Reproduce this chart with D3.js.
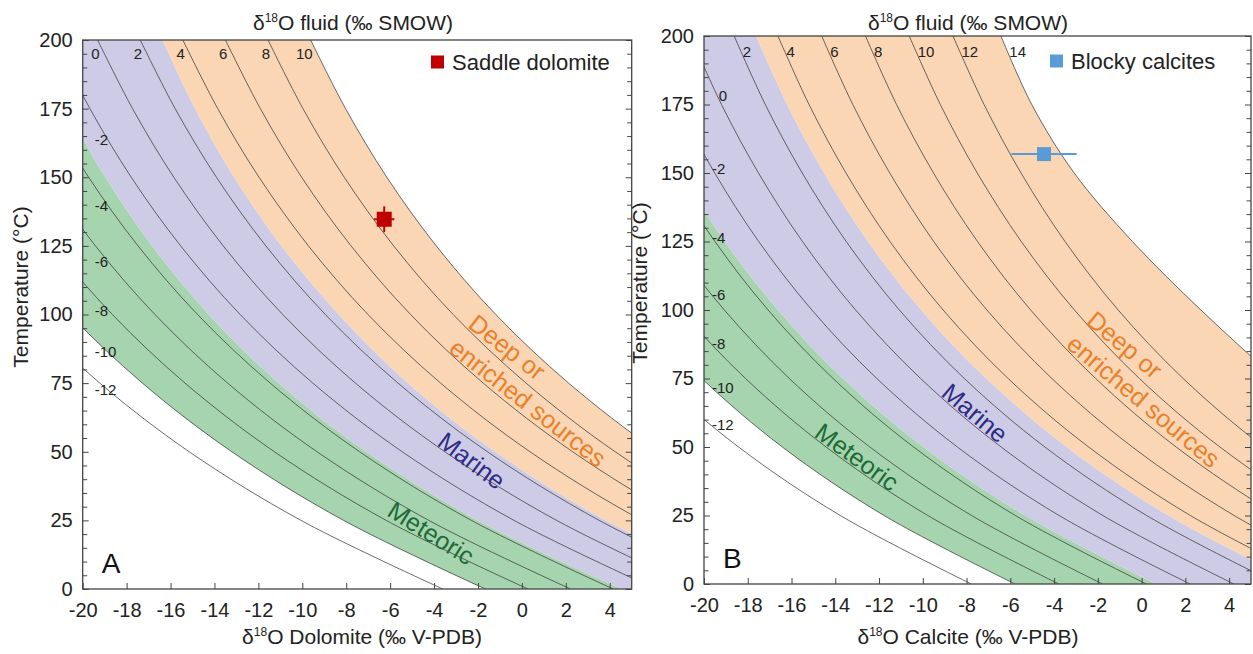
<!DOCTYPE html>
<html>
<head>
<meta charset="utf-8">
<script src="https://cdnjs.cloudflare.com/ajax/libs/d3/7.8.5/d3.min.js"></script>
<style>
  html,body{margin:0;padding:0;background:#fff;}
  svg{display:block;}
  text{font-family:"Liberation Sans", Arial, Helvetica, sans-serif;}
</style>
</head>
<body>
<svg id="fig" width="1253" height="654"></svg>
<script>
// ---------- shared axis values ----------
const temperatureSteps = [0, 25, 50, 75, 100, 125, 150, 175, 200];
const xTickValues = [-20, -18, -16, -14, -12, -10, -8, -6, -4, -2, 0, 2, 4];
const yTickValues = [0, 25, 50, 75, 100, 125, 150, 175, 200];
const yMinorTickValues = [5,10,15,20,30,35,40,45,55,60,65,70,80,85,90,95,105,110,115,120,130,135,140,145,155,160,165,170,180,185,190,195];

// ---------- Panel A : dolomite (x = d18O dolomite at each temperature step) ----------
const dolomiteFluid = [-12, -10, -8, -6, -4, -2, 0, 2, 4, 6, 8, 10];
const dolomiteLines = [
  [-3.60, -10.06, -15.15, -19.22, -22.53, -25.24, -27.49, -29.37, -30.96],
  [-1.66,  -8.12, -13.21, -17.28, -20.59, -23.30, -25.55, -27.43, -29.02],
  [ 0.28,  -6.18, -11.27, -15.34, -18.65, -21.36, -23.61, -25.49, -27.08],
  [ 2.22,  -4.24,  -9.33, -13.40, -16.71, -19.42, -21.67, -23.55, -25.14],
  [ 4.16,  -2.30,  -7.39, -11.46, -14.77, -17.48, -19.73, -21.61, -23.20],
  [ 6.10,  -0.36,  -5.45,  -9.52, -12.83, -15.54, -17.79, -19.67, -21.26],
  [ 8.04,   1.58,  -3.51,  -7.58, -10.89, -13.60, -15.85, -17.73, -19.32],
  [ 9.98,   3.52,  -1.57,  -5.64,  -8.95, -11.66, -13.91, -15.79, -17.38],
  [11.92,   5.46,   0.37,  -3.70,  -7.01,  -9.72, -11.97, -13.85, -15.44],
  [13.86,   7.40,   2.31,  -1.76,  -5.07,  -7.78, -10.03, -11.91, -13.50],
  [15.80,   9.34,   4.25,   0.19,  -3.13,  -5.84,  -8.09,  -9.97, -11.56],
  [17.74,  11.28,   6.19,   2.13,  -1.19,  -3.90,  -6.15,  -8.03,  -9.62]
];
const dolomiteMeteoricEdge = [4.55, -2.01, -7.08, -11.07, -14.26, -16.84, -18.97, -20.72, -22.18];
const dolomiteMarineEdge   = [10.42, 3.83, -1.21, -5.18, -8.34, -10.95, -13.10, -14.88, -16.36];
const saddleDolomite = [-6.27, 134.7];
const saddleDolomiteError = [0.46, 4.7];

// ---------- Panel B : calcite ----------
const calciteFluid = [-12, -10, -8, -6, -4, -2, 0, 2, 4, 6, 8, 10, 12, 14];
const calciteLines = [
  [-7.78, -13.77, -18.42, -22.10, -25.07, -27.50, -29.51, -31.20, -32.62],
  [-5.78, -11.77, -16.42, -20.10, -23.07, -25.50, -27.51, -29.20, -30.62],
  [-3.78,  -9.77, -14.42, -18.10, -21.07, -23.50, -25.51, -27.20, -28.62],
  [-1.78,  -7.77, -12.42, -16.10, -19.07, -21.50, -23.51, -25.20, -26.62],
  [ 0.22,  -5.77, -10.42, -14.10, -17.07, -19.50, -21.51, -23.20, -24.62],
  [ 2.22,  -3.77,  -8.42, -12.10, -15.07, -17.50, -19.51, -21.20, -22.62],
  [ 4.22,  -1.77,  -6.42, -10.10, -13.07, -15.50, -17.51, -19.20, -20.62],
  [ 6.22,   0.23,  -4.42,  -8.10, -11.07, -13.50, -15.51, -17.20, -18.62],
  [ 8.22,   2.23,  -2.42,  -6.10,  -9.07, -11.50, -13.51, -15.20, -16.62],
  [10.22,   4.23,  -0.42,  -4.10,  -7.07,  -9.50, -11.51, -13.20, -14.62],
  [12.22,   6.23,   1.58,  -2.10,  -5.07,  -7.50,  -9.51, -11.20, -12.62],
  [14.22,   8.23,   3.58,  -0.10,  -3.07,  -5.50,  -7.51,  -9.20, -10.62],
  [16.22,  10.23,   5.58,   1.90,  -1.07,  -3.50,  -5.51,  -7.20,  -8.62],
  [18.80,  14.10,   9.90,   6.15,   2.71,  -0.42,  -3.08,  -5.02,  -6.43]
];
const calciteMeteoricEdge = [0.67, -5.32, -9.97, -13.65, -16.62, -19.05, -21.06, -22.75, -24.17];
const calciteMarineEdge   = [7.22, 1.23, -3.42, -7.10, -10.07, -12.50, -14.51, -16.20, -17.62];
const blockyCalcite = [-4.46, 156.9];
const blockyCalciteError = [1.49, 0];

// ---------- drawing ----------
const svg = d3.select("#fig");
const GREEN = "#a6d4ae", PURPLE = "#cdcbe6", ORANGE = "#fad6b5";
const AXIS = "#444";

function deltaLabel(sel, rest) {
  sel.append("tspan").text("δ");
  sel.append("tspan").attr("dy", -8).attr("font-size", 12).text("18");
  sel.append("tspan").attr("dy", 8).text(rest);
}

function drawPanel(p) {
  const x = d3.scaleLinear().domain([-20, 5]).range([p.left, p.right]);
  const y = d3.scaleLinear().domain([0, 200]).range([p.bottom, p.top]);
  const g = svg.append("g");
  g.append("clipPath").attr("id", p.id).append("rect")
    .attr("x", p.left).attr("y", p.top)
    .attr("width", p.right - p.left).attr("height", p.bottom - p.top);
  const plot = g.append("g").attr("clip-path", `url(#${p.id})`);

  const rows = (a, b) => temperatureSteps.map((t, i) => ({t, a: a[i], b: b[i]}));
  const area = d3.area().curve(d3.curveCatmullRom)
    .y(d => y(d.t)).x0(d => x(d.a)).x1(d => x(d.b));
  p.bands.forEach(b => plot.append("path").attr("d", area(rows(b.from, b.to))).attr("fill", b.color));

  const line = d3.line().curve(d3.curveCatmullRom).y(d => y(d.t)).x(d => x(d.v));
  p.lines.forEach(arr => plot.append("path")
    .attr("d", line(temperatureSteps.map((t, i) => ({t, v: arr[i]}))))
    .attr("fill", "none").attr("stroke", "#3a3a3a").attr("stroke-width", 0.75));

  // isopleth labels
  p.fluid.forEach((f, i) => {
    const arr = p.lines[i];
    const xAtT = d3.scaleLinear().domain(temperatureSteps).range(arr);
    const tAtX = d3.scaleLinear().domain(arr).range(temperatureSteps);
    let tx, ty, anchor;
    const place = T => {
      ty = y(T) + 5;
      if (p.labelSide === "left") { tx = x(xAtT(T)) - p.labelGap; anchor = "end"; }
      else { tx = x(xAtT(T)) + p.labelGap; anchor = "start"; }
    };
    if (xAtT(p.topLabelT) > -19.65) place(p.topLabelT);
    else if (p.secondLabelT && xAtT(p.secondLabelT) > -19.65) place(p.secondLabelT);
    else {
      ty = y(tAtX(p.leftLabelX)) + 5;
      tx = p.left + p.leftLabelInset; anchor = "start";
    }
    g.append("text").attr("x", tx).attr("y", ty).attr("text-anchor", anchor)
      .attr("font-size", 15).attr("fill", "#222").text(String(f));
  });

  // frame
  g.append("rect").attr("x", p.left).attr("y", p.top)
    .attr("width", p.right - p.left).attr("height", p.bottom - p.top)
    .attr("fill", "none").attr("stroke", AXIS).attr("stroke-width", 1.3);

  const style = sel => {
    sel.select(".domain").remove();
    sel.selectAll(".tick line").attr("stroke", AXIS).attr("stroke-width", 1);
    sel.selectAll(".tick text").attr("font-size", 20).attr("fill", "#222")
      .attr("font-family", "'Liberation Sans', Arial, sans-serif");
  };
  g.append("g").attr("transform", `translate(0,${p.bottom})`)
    .call(d3.axisBottom(x).tickValues(xTickValues).tickSize(-6).tickPadding(13.5).tickFormat(d => String(d))).call(style);
  g.append("g").attr("transform", `translate(${p.left},0)`)
    .call(d3.axisLeft(y).tickValues(yTickValues).tickSize(-6).tickPadding(10).tickFormat(d => String(d))).call(style);
  g.append("g").attr("transform", `translate(${p.left},0)`)
    .call(d3.axisLeft(y).tickValues(yMinorTickValues).tickSize(-4.5).tickFormat("")).call(style);
  g.append("g").attr("transform", `translate(${p.right},0)`)
    .call(d3.axisRight(y).tickValues(yTickValues).tickSize(-6).tickFormat("")).call(style);
  g.append("g").attr("transform", `translate(${p.right},0)`)
    .call(d3.axisRight(y).tickValues(yMinorTickValues).tickSize(-4.5).tickFormat("")).call(style);

  // titles
  g.append("text").attr("x", p.titleX).attr("y", 30).attr("text-anchor", "middle")
    .attr("font-size", 21).attr("fill", "#222").call(deltaLabel, "O fluid (‰ SMOW)");
  g.append("text").attr("x", p.xTitleX).attr("y", 644).attr("text-anchor", "middle")
    .attr("font-size", 21).attr("fill", "#222").call(deltaLabel, p.xTitle);
  g.append("text").attr("transform", `translate(${p.yTitleX},${p.yTitleY}) rotate(-90)`)
    .attr("text-anchor", "middle").attr("font-size", 21).attr("fill", "#222")
    .text("Temperature (°C)");

  // panel letter
  g.append("text").attr("x", p.left + 19).attr("y", p.bottom - 16)
    .attr("font-size", 28).attr("fill", "#111").text(p.letter);

  // region labels
  const dt = g.append("text")
    .attr("transform", `translate(${p.deepAt[0]},${p.deepAt[1]}) rotate(${p.deepAt[2]})`)
    .attr("font-size", 25).attr("fill", "#e9802a");
  dt.append("tspan").attr("x", 0).attr("y", 0).text("Deep or");
  dt.append("tspan").attr("x", 0).attr("dy", 31).text("enriched sources");
  g.append("text").attr("transform", `translate(${p.marineAt[0]},${p.marineAt[1]}) rotate(${p.marineAt[2]})`)
    .attr("text-anchor", "middle").attr("dy", "0.35em").attr("font-size", 25).attr("fill", "#2e2c85").text("Marine");
  g.append("text").attr("transform", `translate(${p.meteoricAt[0]},${p.meteoricAt[1]}) rotate(${p.meteoricAt[2]})`)
    .attr("text-anchor", "middle").attr("dy", "0.35em").attr("font-size", 25).attr("fill", "#1d6b37").text("Meteoric");

  // sample point
  const px = x(p.point[0]), py = y(p.point[1]);
  const ex = p.pointError[0], ey = p.pointError[1];
  if (ex > 0) g.append("line").attr("x1", x(p.point[0] - ex)).attr("x2", x(p.point[0] + ex))
    .attr("y1", py).attr("y2", py).attr("stroke", p.pointColor).attr("stroke-width", 2);
  if (ey > 0) g.append("line").attr("x1", px).attr("x2", px)
    .attr("y1", y(p.point[1] - ey)).attr("y2", y(p.point[1] + ey)).attr("stroke", p.pointColor).attr("stroke-width", 2);
  g.append("rect").attr("x", px - p.pointSize / 2).attr("y", py - p.pointSize / 2)
    .attr("width", p.pointSize).attr("height", p.pointSize).attr("fill", p.pointColor);

  // legend
  g.append("rect").attr("x", p.legendAt[0]).attr("y", p.legendAt[1] - 6.5)
    .attr("width", 13).attr("height", 13).attr("fill", p.pointColor);
  g.append("text").attr("x", p.legendAt[0] + 21).attr("y", p.legendAt[1] + 7.5)
    .attr("font-size", 22).attr("fill", "#222").text(p.legendText);
}

drawPanel({
  id: "clipA", left: 82.7, right: 631.7, top: 40, bottom: 589,
  fluid: dolomiteFluid, lines: dolomiteLines,
  bands: [
    {from: dolomiteLines[1], to: dolomiteMeteoricEdge, color: GREEN},
    {from: dolomiteMeteoricEdge, to: dolomiteMarineEdge, color: PURPLE},
    {from: dolomiteMarineEdge, to: dolomiteLines[11], color: ORANGE}
  ],
  topLabelT: 195, secondLabelT: null, labelSide: "left", labelGap: 5,
  leftLabelX: -18.8, leftLabelInset: 12,
  titleX: 353, xTitleX: 362, xTitle: "O Dolomite (‰ V-PDB)", yTitleX: 28, yTitleY: 287, letter: "A",
  deepAt: [466.7, 326.7, 38], marineAt: [471.7, 460.7, 37], meteoricAt: [431, 533, 32],
  point: saddleDolomite, pointError: saddleDolomiteError, pointColor: "#c00000", pointSize: 15,
  legendAt: [431, 62], legendText: "Saddle dolomite"
});

drawPanel({
  id: "clipB", left: 704, right: 1251, top: 36, bottom: 584,
  fluid: calciteFluid, lines: calciteLines,
  bands: [
    {from: calciteLines[1], to: calciteMeteoricEdge, color: GREEN},
    {from: calciteMeteoricEdge, to: calciteMarineEdge, color: PURPLE},
    {from: calciteMarineEdge, to: calciteLines[13], color: ORANGE}
  ],
  topLabelT: 194, secondLabelT: 178, labelSide: "right", labelGap: 1,
  leftLabelX: -19.6, leftLabelInset: 8,
  titleX: 968, xTitleX: 968, xTitle: "O Calcite (‰ V-PDB)", yTitleX: 647, yTitleY: 283, letter: "B",
  deepAt: [1085, 323, 40], marineAt: [975, 413, 40], meteoricAt: [857, 457, 36],
  point: blockyCalcite, pointError: blockyCalciteError, pointColor: "#5b9bd5", pointSize: 14,
  legendAt: [1050, 61], legendText: "Blocky calcites"
});
</script>
</body>
</html>
